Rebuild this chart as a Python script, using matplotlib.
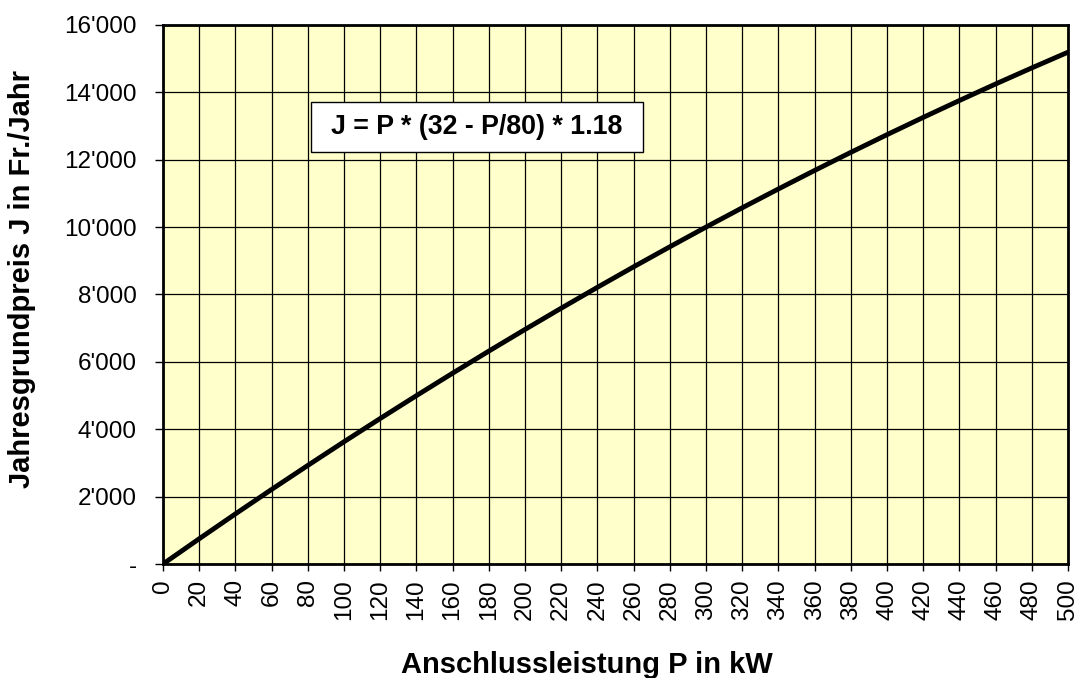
import matplotlib
matplotlib.use("Agg")
import matplotlib.pyplot as plt
from matplotlib.patches import Rectangle
from matplotlib.ticker import FuncFormatter

plt.rcParams['font.family'] = ['Liberation Sans', 'DejaVu Sans']

# Values (every 20 kW)
leistung_kw = [0, 20, 40, 60, 80, 100, 120, 140, 160, 180, 200, 220, 240,
               260, 280, 300, 320, 340, 360, 380, 400, 420, 440, 460, 480, 500]
jahrespreis = [0, 749, 1487, 2213, 2926, 3629, 4319, 4997, 5664, 6319, 6962,
               7593, 8213, 8821, 9416, 10001, 10573, 11133, 11682, 12219,
               12744, 13257, 13758, 14249, 14726, 15193]

y_ticks = list(range(0, 16001, 2000))
formel = "J = P * (32 - P/80) * 1.18"


def fmt_tausend(v, pos):
    if v == 0:
        return "-"
    return f"{int(v):,}".replace(",", "'")


fig = plt.figure(figsize=(10.78, 6.78), dpi=100)
ax = fig.add_axes([163 / 1078, 1 - 564 / 678, 905 / 1078, 539 / 678])
ax.set_facecolor("#FFFFCC")

ax.plot(leistung_kw, jahrespreis, color="black", lw=3.5, solid_capstyle="round", zorder=3)

ax.set_xlim(0, 500)
ax.set_ylim(0, 16000)
ax.set_xticks(leistung_kw)
ax.set_yticks(y_ticks)
ax.yaxis.set_major_formatter(FuncFormatter(fmt_tausend))
ax.tick_params(axis="x", labelrotation=90, labelsize=17.5, length=5, width=1, pad=6)
ax.tick_params(axis="y", labelsize=17.5, length=6, width=1, pad=13)
ax.grid(True, color="black", lw=0.9)
ax.set_axisbelow(True)
for s in ax.spines.values():
    s.set_linewidth(2)

# axis titles placed like in the original chart
fig.text(587 / 1078, 1 - 673 / 678, "Anschlussleistung P in kW", fontsize=21,
         fontweight="bold", ha="center", va="baseline")
fig.text(22 / 1078, 1 - 279 / 678, "Jahresgrundpreis J in Fr./Jahr", fontsize=21,
         fontweight="bold", ha="center", va="center", rotation=90)

# formula box
ax.add_patch(Rectangle((0.1635, 0.764), 0.367, 0.093, transform=ax.transAxes,
                       facecolor="white", edgecolor="black", lw=1.0, zorder=5))
ax.text(0.347, 0.811, formel, transform=ax.transAxes, fontsize=19.3, fontweight="bold",
        ha="center", va="center", zorder=6)

fig.savefig("out.png", dpi=100)
